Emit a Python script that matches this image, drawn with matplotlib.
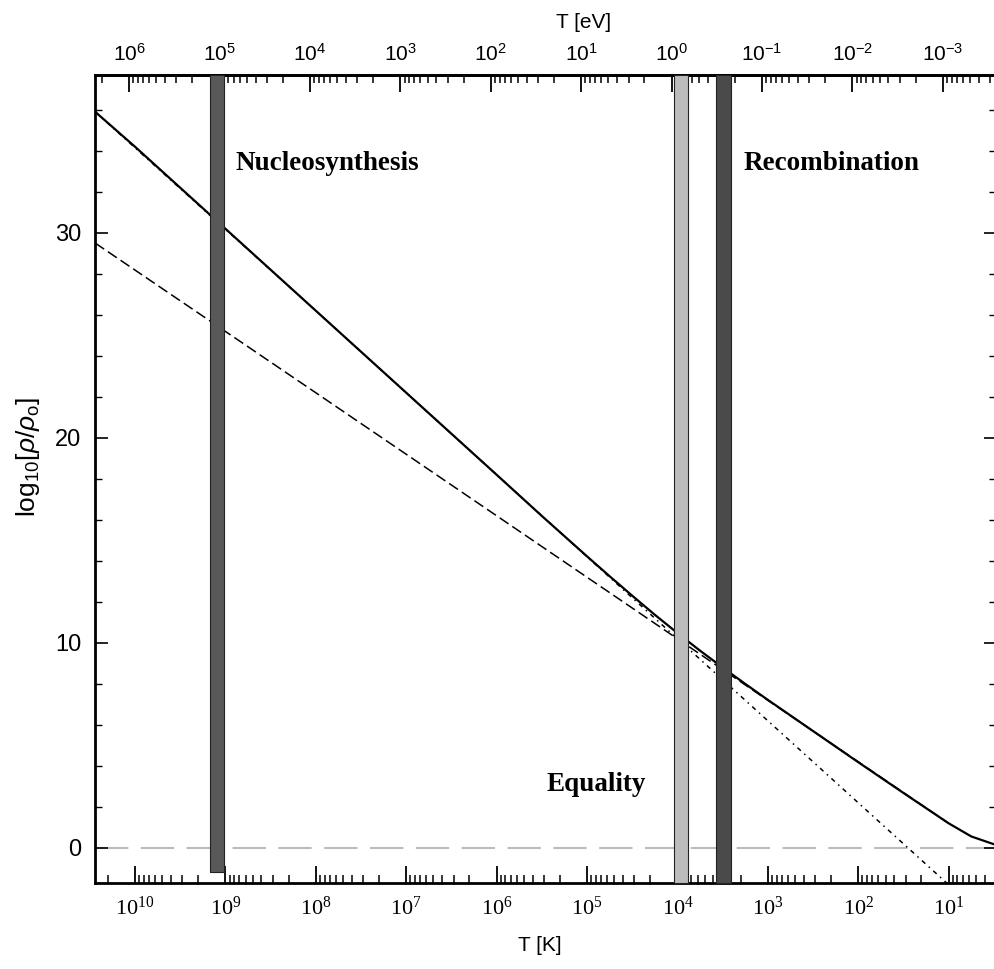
"""
Energy density vs temperature (radiation, matter, total)
"""
import numpy as np
import matplotlib
matplotlib.use("Agg")
import matplotlib.pyplot as plt
from matplotlib.ticker import LogLocator, FixedLocator, MultipleLocator, FuncFormatter, NullFormatter

plt.rcParams['mathtext.fontset'] = 'custom'
plt.rcParams['mathtext.rm'] = 'Liberation Serif'
plt.rcParams['mathtext.sf'] = 'Liberation Sans'
plt.rcParams['mathtext.it'] = 'Liberation Sans:italic'
plt.rcParams['mathtext.bf'] = 'Liberation Serif:bold'

# values (log10 T[K] -> log10 rho/rho0)
logT_total = [10.44, 10.0, 9.0, 8.0, 7.0, 6.0, 5.5, 5.0, 4.75, 4.5, 4.25, 4.0, 3.75, 3.5,
              3.25, 3.0, 2.0, 1.5, 1.0, 0.75, 0.48]
rho_total = [35.9, 34.2, 30.2, 26.2, 22.2, 18.2, 16.19, 14.22, 13.25, 12.3, 11.37, 10.48, 9.62, 8.8,
             8.0, 7.22, 4.18, 2.68, 1.2, 0.56, 0.15]

logT_matter = [10.44, 8.0, 6.0, 4.0, 2.0, 1.0]
rho_matter = [29.5, 22.2, 16.2, 10.2, 4.2, 1.2]

logT_rad = [10.44, 8.0, 6.0, 4.0, 2.0, 1.0]
rho_rad = [35.9, 26.2, 18.2, 10.2, 2.2, -1.8]

rho_lambda = 0.0

# epochs
band_names = ['Nucleosynthesis', 'Equality', 'Recombination']
band_lo = [9.02, 3.88, 3.41]
band_hi = [9.17, 4.04, 3.57]
band_bottom = [-1.17, -1.71, -1.71]
band_colors = ['#585858', '#bcbcbc', '#4a4a4a']
label_logT = [8.89, 5.45, 3.27]
label_y = [33.4, 3.1, 33.4]

K_PER_EV = 11604.5
xlim_log = (10.443, 0.477)
ylim = (-1.71, 37.7)

fig = plt.figure(figsize=(9.94, 9.69), dpi=100)
ax = fig.add_axes([95 / 994, 86 / 969, 1 - 95 / 994 + 0.002, (883 - 75) / 969])

ax.set_xscale('log')
ax.set_xlim(10 ** xlim_log[0], 10 ** xlim_log[1])
ax.set_ylim(*ylim)

ax.axhline(rho_lambda, color='#bbbbbb', lw=1.5, ls=(0, (16, 6)), zorder=1)
ax.plot(10 ** np.array(logT_rad), rho_rad, color='k', lw=1.1, ls=(0, (3, 3, 1, 3)), zorder=2)
ax.plot(10 ** np.array(logT_matter), rho_matter, color='k', lw=1.1, ls=(0, (7, 3)), zorder=2)
ax.plot(10 ** np.array(logT_total), rho_total, color='k', lw=1.6, zorder=2)

for name, lo, hi, bot, c, lx, ly in zip(band_names, band_lo, band_hi, band_bottom,
                                         band_colors, label_logT, label_y):
    ax.fill_betweenx([bot, ylim[1]], 10 ** lo, 10 ** hi, facecolor=c,
                     edgecolor='#222222', lw=0.8, zorder=3)
    ax.text(10 ** lx, ly, name, family='Liberation Serif', weight='bold',
            fontsize=19.5, ha='left', va='center', zorder=4)

# bottom axis
ax.xaxis.set_major_locator(LogLocator(base=10, numticks=20))
ax.xaxis.set_minor_locator(LogLocator(base=10, subs=np.arange(2, 10), numticks=20))
ax.xaxis.set_major_formatter(FuncFormatter(lambda v, p: r'$\mathrm{10^{%d}}$' % round(np.log10(v))))
ax.xaxis.set_minor_formatter(NullFormatter())
ax.tick_params(axis='x', which='major', direction='in', length=12, width=1.3,
               labelsize=16, pad=9, top=False)
ax.tick_params(axis='x', which='minor', direction='in', length=6, width=1.1, top=False)

# y axis
ax.yaxis.set_major_locator(FixedLocator([0, 10, 20, 30]))
ax.yaxis.set_minor_locator(MultipleLocator(2))
ax.tick_params(axis='y', which='major', direction='in', length=9, width=1.2,
               labelsize=17, pad=10, right=True)
ax.tick_params(axis='y', which='minor', direction='in', length=5, width=1.0, right=True)
for lab in ax.get_yticklabels():
    lab.set_family('Liberation Sans')

for sp in ax.spines.values():
    sp.set_linewidth(2.0)

ax.set_xlabel('T [K]', family='Liberation Sans', fontsize=15)
ax.xaxis.set_label_coords((539 - 95) / 899, -0.065)
ax.set_ylabel(r'$\mathsf{log_{10}[}\rho\mathsf{/}\rho_\mathsf{o}\mathsf{]}$', fontsize=19)
ax.yaxis.set_label_coords(-0.059, 0.527)

# top axis in eV
top = ax.secondary_xaxis('top', functions=(lambda t: t / K_PER_EV, lambda e: e * K_PER_EV))
top.xaxis.set_major_locator(LogLocator(base=10, numticks=20))
top.xaxis.set_minor_locator(LogLocator(base=10, subs=np.arange(2, 10), numticks=20))
top.xaxis.set_major_formatter(FuncFormatter(lambda v, p: r'$\mathsf{10^{%d}}$' % round(np.log10(v))))
top.xaxis.set_minor_formatter(NullFormatter())
top.tick_params(axis='x', which='major', direction='in', length=12, width=1.3,
                labelsize=15, pad=7)
top.tick_params(axis='x', which='minor', direction='in', length=6, width=1.1)
top.spines['top'].set_linewidth(2.0)
top.set_xlabel('T [eV]', family='Liberation Sans', fontsize=15)
top.xaxis.set_label_coords((582 - 95) / 899, 1.058, transform=ax.transAxes)

fig.savefig('out.png', dpi=100)
